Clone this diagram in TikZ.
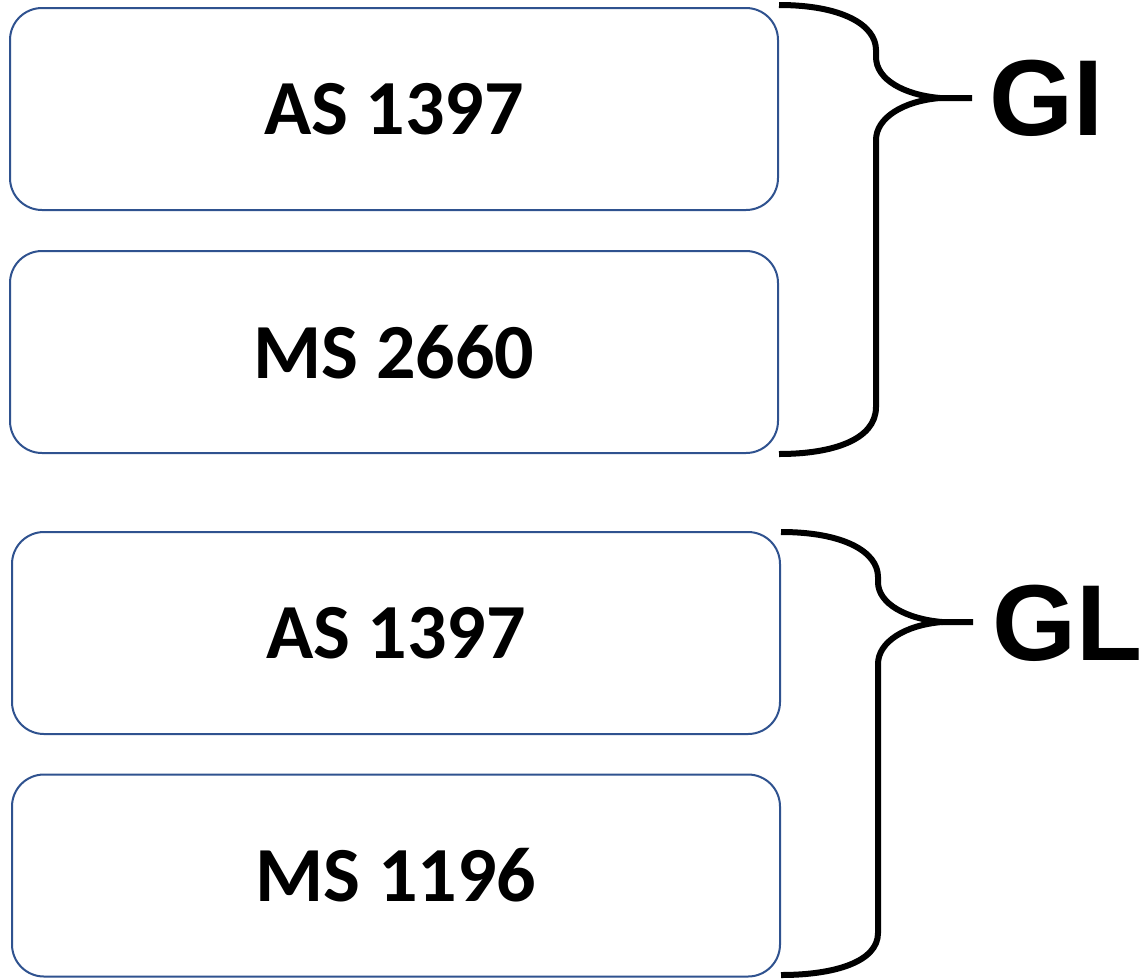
\documentclass[tikz,border=0pt]{standalone}
\usepackage{fontspec}
\setmainfont{Carlito}
\newfontfamily\arialfont{Liberation Sans}
\definecolor{boxblue}{HTML}{2F528F}
\begin{document}
\begin{tikzpicture}[x=1pt,y=-1pt,
  itembox/.style={draw=boxblue, line width=2pt, rounded corners=32pt, fill=white,
    minimum width=768pt, minimum height=202pt, inner sep=0pt,
    font=\fontsize{78}{90}\selectfont\bfseries},
  bracepath/.style={draw=black, line width=6pt},
  grouplabel/.style={font=\arialfont\fontsize{108}{120}\selectfont\bfseries, inner sep=0pt, anchor=base}]
\useasboundingbox (0,0) rectangle (1148,978);
\node[itembox] (b1) at (394,109) {AS 1397};
\node[itembox] (b2) at (394,352) {MS 2660};
\node[itembox] (b3) at (396,633) {AS 1397};
\node[itembox] (b4) at (396,875.5) {MS 1196};
% brace GI
\coordinate (t1) at (972,98);
\draw[bracepath] (779,5) .. controls (842,5) and (876,25) .. (876,50) -- (876,57)
  .. controls (876,80) and (905,95) .. (940,98) -- (t1);
\draw[bracepath] (940,98) .. controls (903,101) and (876,118) .. (876,140) -- (876,407)
  .. controls (876,440) and (832,454) .. (779,454);
\node[grouplabel] (gi) at (1046,135) {GI};
% brace GL
\coordinate (t2) at (973,622);
\draw[bracepath] (781,532) .. controls (844,532) and (878,552) .. (878,577) -- (878,582)
  .. controls (878,604) and (907,619) .. (942,622) -- (t2);
\draw[bracepath] (942,622) .. controls (905,625) and (878,642) .. (878,664) -- (878,933)
  .. controls (878,962) and (834,975) .. (781,975);
\node[grouplabel] (gl) at (1067,660) {GL};
\end{tikzpicture}
\end{document}
